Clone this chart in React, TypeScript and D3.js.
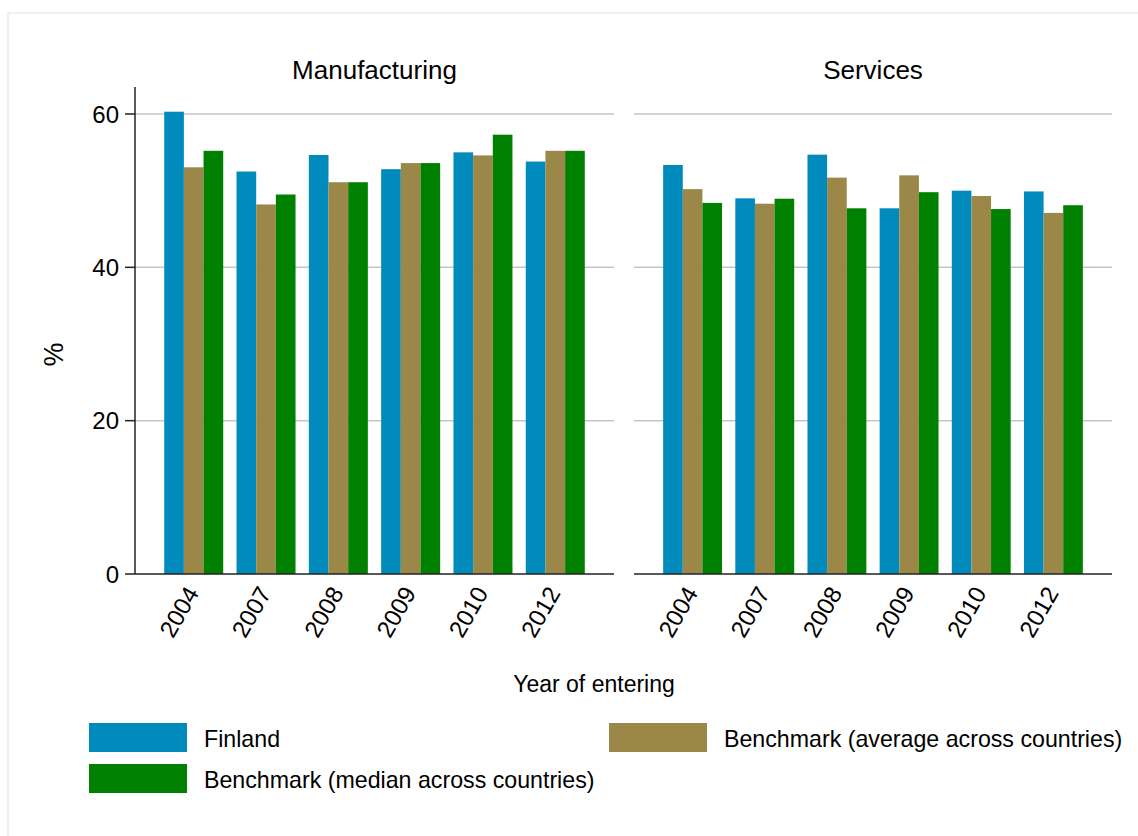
import React from "react";
import * as d3 from "d3";

const years = ["2004", "2007", "2008", "2009", "2010", "2012"];
const panels = ["Manufacturing", "Services"];
const seriesNames = [
  "Finland",
  "Benchmark (average across countries)",
  "Benchmark (median across countries)",
];
const seriesColors = ["#008bbc", "#9b8848", "#008000"];

// Manufacturing
const manuFinland = [60.3, 52.5, 54.65, 52.8, 55.0, 53.8];
const manuAverage = [53.05, 48.2, 51.1, 53.6, 54.6, 55.2];
const manuMedian = [55.2, 49.5, 51.1, 53.6, 57.3, 55.2];
// Services
const servFinland = [53.35, 49.0, 54.7, 47.7, 50.0, 49.9];
const servAverage = [50.2, 48.3, 51.7, 52.0, 49.3, 47.1];
const servMedian = [48.4, 48.95, 47.7, 49.8, 47.6, 48.1];

const yTicks = [0, 20, 40, 60];

const panelData = [
  [manuFinland, manuAverage, manuMedian],
  [servFinland, servAverage, servMedian],
];

const FONT = "'Liberation Sans', Arial, Helvetica, sans-serif";

export default function App() {
  const W = 1138;
  const H = 836;
  const y = d3.scaleLinear().domain([0, 60]).range([574, 114]);
  const panelRanges: [number, number][] = [
    [135, 614],
    [634, 1112],
  ];

  return (
    <svg
      width={W}
      height={H}
      style={{ position: "absolute", left: 0, top: 0, background: "#fff" }}
      fontFamily={FONT}
    >
      <rect x={0} y={0} width={W} height={H} fill="#fff" />
      <rect x={8} y={13} width={1140} height={840} fill="none" stroke="#e4ebef" strokeWidth={1.5} />

      {panels.map((p, pi) => {
        const [x0, x1] = panelRanges[pi];
        const x = d3
          .scaleBand<string>()
          .domain(years)
          .range([x0, x1])
          .paddingInner(0.184)
          .paddingOuter(0.404);
        const xs = d3
          .scaleBand<number>()
          .domain([0, 1, 2])
          .range([0, x.bandwidth()]);
        const data = panelData[pi];
        return (
          <g key={p}>
            <text
              x={(x0 + x1) / 2}
              y={79}
              textAnchor="middle"
              fontSize={26}
              fill="#000"
            >
              {p}
            </text>
            {yTicks
              .filter((t) => t > 0)
              .map((t) => (
                <line
                  key={t}
                  x1={x0}
                  x2={x1}
                  y1={y(t)}
                  y2={y(t)}
                  stroke="#c6c6c6"
                  strokeWidth={1.5}
                />
              ))}
            {years.map((yr, i) =>
              data.map((s, si) => (
                <rect
                  key={yr + si}
                  x={(x(yr) as number) + (xs(si) as number)}
                  y={y(s[i])}
                  width={xs.bandwidth()}
                  height={y(0) - y(s[i])}
                  fill={seriesColors[si]}
                />
              ))
            )}
            <line x1={x0} x2={x1} y1={y(0)} y2={y(0)} stroke="#222" strokeWidth={1.5} />
            {years.map((yr) => {
              const cx = (x(yr) as number) + x.bandwidth() / 2 + 6;
              return (
                <text
                  key={yr}
                  transform={`translate(${cx},${y(0) + 19}) rotate(-60)`}
                  textAnchor="end"
                  fontSize={24}
                  fill="#000"
                >
                  {yr}
                </text>
              );
            })}
            {pi === 0 && (
              <g>
                <line x1={135} x2={135} y1={87} y2={y(0)} stroke="#222" strokeWidth={1.5} />
                {yTicks.map((t) => (
                  <g key={t}>
                    <line x1={125} x2={135} y1={y(t)} y2={y(t)} stroke="#222" strokeWidth={1.5} />
                    <text
                      x={119}
                      y={y(t)}
                      dy="0.36em"
                      textAnchor="end"
                      fontSize={24}
                      fill="#000"
                    >
                      {t}
                    </text>
                  </g>
                ))}
              </g>
            )}
          </g>
        );
      })}

      <text
        transform="translate(63,354.5) rotate(-90)"
        textAnchor="middle"
        fontSize={27}
        fill="#000"
      >
        %
      </text>
      <text x={594} y={692} textAnchor="middle" fontSize={23} fill="#000">
        Year of entering
      </text>

      {/* legend */}
      {[
        { i: 0, x: 89, y: 723 },
        { i: 1, x: 609, y: 723 },
        { i: 2, x: 89, y: 764 },
      ].map((l) => (
        <g key={l.i}>
          <rect x={l.x} y={l.y} width={98} height={29} fill={seriesColors[l.i]} />
          <text x={l.x + 115} y={l.y + 23.5} fontSize={23.2} fill="#000">
            {seriesNames[l.i]}
          </text>
        </g>
      ))}
    </svg>
  );
}
